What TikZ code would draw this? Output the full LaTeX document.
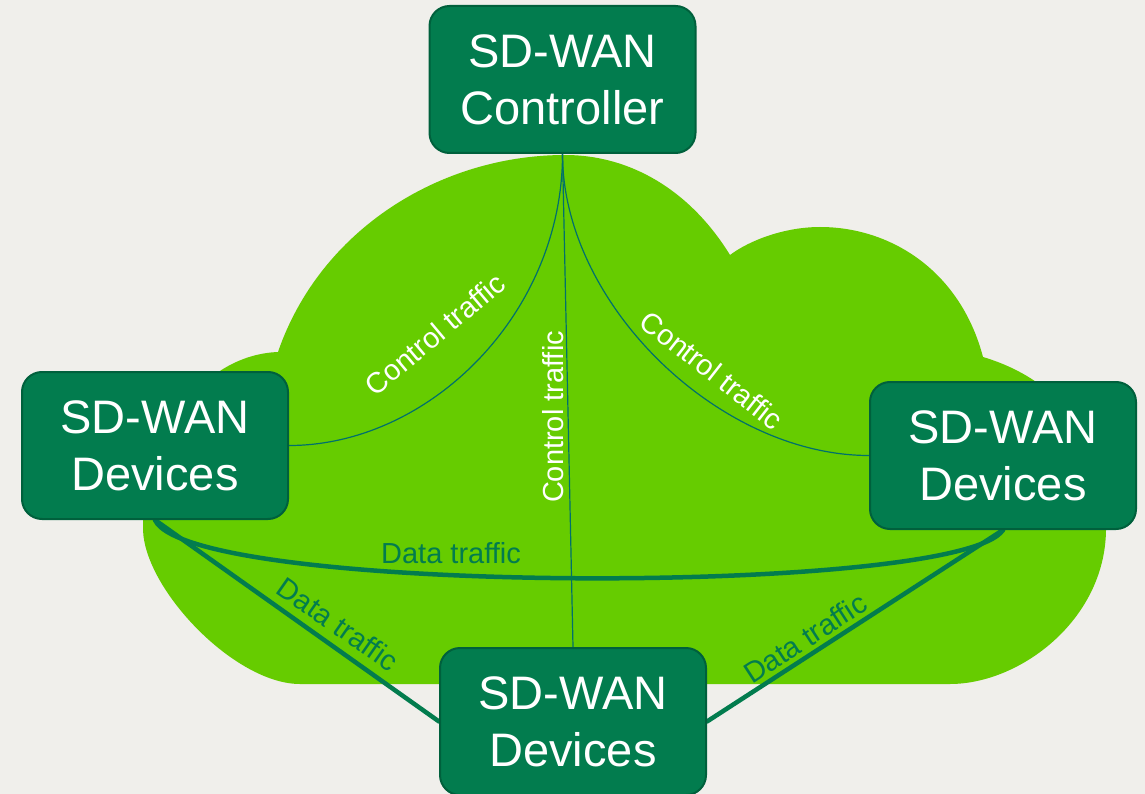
\documentclass[tikz,border=0pt]{standalone}
\usepackage{fontspec}
\setmainfont{Liberation Sans}
\usetikzlibrary{backgrounds}
\definecolor{bg}{RGB}{240,239,235}
\definecolor{cloudg}{RGB}{102,204,0}
\definecolor{boxg}{RGB}{2,124,78}
\definecolor{boxb}{RGB}{0,96,60}
\definecolor{ctrlline}{RGB}{0,112,108}
\begin{document}
\begin{tikzpicture}[x=1pt,y=-1pt,
  sdbox/.style={draw=boxb,line width=2pt,fill=boxg,rounded corners=20pt,
    minimum width=266pt,minimum height=147pt,inner sep=0pt,align=center,
    text=white,font=\fontsize{47}{57}\selectfont},
  ctrl/.style={draw=ctrlline,line width=1.2pt},
  data/.style={draw=boxg,line width=4.5pt,line cap=round},
  ctrllabel/.style={text=white,font=\fontsize{29}{34}\selectfont,inner sep=0pt},
  datalabel/.style={text=boxg,font=\fontsize{29}{34}\selectfont,inner sep=0pt}]
\path[use as bounding box] (0,0) rectangle (1145,794);
% nodes
\node[sdbox] (ctrlr) at (562.5,79.5) {SD-WAN\\Controller};
\node[sdbox] (devl) at (155,445.5) {SD-WAN\\Devices};
\node[sdbox] (devr) at (1003,455.5) {SD-WAN\\Devices};
\node[sdbox] (devb) at (573,721.5) {SD-WAN\\Devices};
% labels
\node[ctrllabel,rotate=40] (lc1) at (435,334) {Control traffic};
\node[ctrllabel,rotate=90] (lc2) at (553,417) {Control traffic};
\node[ctrllabel,rotate=-38] (lc3) at (712,370) {Control traffic};
\node[datalabel] (ld1) at (451,553) {Data traffic};
\node[datalabel,rotate=-35] (ld2) at (338,624) {Data traffic};
\node[datalabel,rotate=33] (ld3) at (805,638) {Data traffic};
\begin{scope}[on background layer]
\fill[bg] (0,0) rectangle (1145,794);
% cloud
\fill[cloudg] (300,684) -- (950,684)
  .. controls (1020,684) and (1105,620) .. (1106,530)
  .. controls (1107,440) and (1060,380) .. (983,357)
  .. controls (960,270) and (890,227) .. (820,227)
  .. controls (785,227) and (750,240) .. (730,255)
  .. controls (690,190) and (630,155) .. (565,155)
  .. controls (440,155) and (320,230) .. (278,352)
  .. controls (200,355) and (143,440) .. (143,530)
  .. controls (145,590) and (235,684) .. (300,684) -- cycle;
% connectors
\path[ctrl] (ctrlr.south) .. controls +(0,160) and +(140,0) .. (devl.east);
\path[ctrl] (ctrlr.south) .. controls +(0,150) and +(-150,0) .. (devr.west);
\path[ctrl] (ctrlr.south) -- (devb.north);
\path[data] (devl.south) .. controls +(35,76) and +(-43,66) .. (devr.south);
\path[data] (devl.south) -- (devb.west);
\path[data] (devr.south) -- (devb.east);
\end{scope}
\end{tikzpicture}
\end{document}
